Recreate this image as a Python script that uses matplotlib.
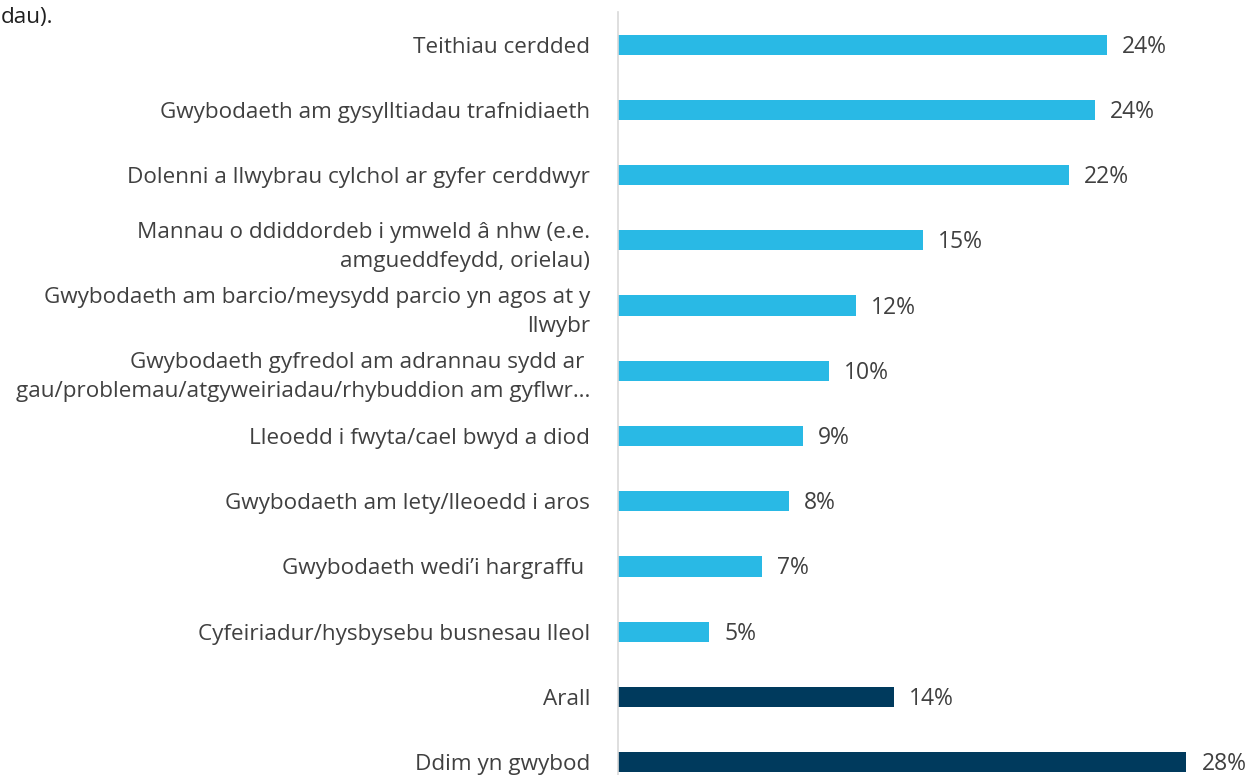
import matplotlib
matplotlib.use("Agg")
import matplotlib.pyplot as plt

categories = [
    "Teithiau cerdded",
    "Gwybodaeth am gysylltiadau trafnidiaeth",
    "Dolenni a llwybrau cylchol ar gyfer cerddwyr",
    "Mannau o ddiddordeb i ymweld â nhw (e.e.\namgueddfeydd, orielau)",
    "Gwybodaeth am barcio/meysydd parcio yn agos at y\nllwybr",
    "Gwybodaeth gyfredol am adrannau sydd ar \ngau/problemau/atgyweiriadau/rhybuddion am gyflwr…",
    "Lleoedd i fwyta/cael bwyd a diod",
    "Gwybodaeth am lety/lleoedd i aros",
    "Gwybodaeth wedi’i hargraffu ",
    "Cyfeiriadur/hysbysebu busnesau lleol",
    "Arall",
    "Ddim yn gwybod",
]
values = [24.1, 23.5, 22.2, 15.0, 11.7, 10.4, 9.1, 8.4, 7.1, 4.5, 13.6, 28.0]
value_labels = ["24%", "24%", "22%", "15%", "12%", "10%", "9%", "8%", "7%", "5%", "14%", "28%"]
groups = ["main"] * 10 + ["other"] * 2

LIGHT = "#29B9E5"
DARK = "#003A5D"
TEXT = "#404040"
FONT = "Open Sans"

W, H = 1247, 775
fig = plt.figure(figsize=(W / 100, H / 100), dpi=100)
ax_left, ax_top, ax_bottom = 618, 12, 775
ax = fig.add_axes([ax_left / W, 1 - ax_bottom / H, (W - ax_left) / W, (ax_bottom - ax_top) / H])

ypos = list(range(len(categories)))
colors = [LIGHT if g == "main" else DARK for g in groups]
ax.barh(ypos, values, height=0.31, color=colors)

px_per_unit = 20.3
ax.set_xlim(0, (W - ax_left) / px_per_unit)
ax.set_ylim((ax_bottom - 45) / 65.2, -0.5)

for y, v, lab in zip(ypos, values, value_labels):
    ax.annotate(lab, xy=(v, y), xytext=(15, -2), textcoords="offset pixels",
                ha="left", va="center", fontsize=16.5, color=TEXT, family=FONT)

ax.set_yticks(ypos)
ax.set_yticklabels(categories, fontsize=16.2, color=TEXT, family=FONT, linespacing=1.5)
ax.tick_params(axis="y", length=0, pad=20)
ax.set_xticks([])
for s in ["top", "right", "bottom"]:
    ax.spines[s].set_visible(False)
ax.spines["left"].set_color("#D9D9D9")
ax.spines["left"].set_linewidth(1.2)

fig.text(1 / W, 1 - 18 / H, "dau).", ha="left", va="center", fontsize=16.2,
         color="#202020", family=FONT)

fig.savefig("out.png", dpi=100)
